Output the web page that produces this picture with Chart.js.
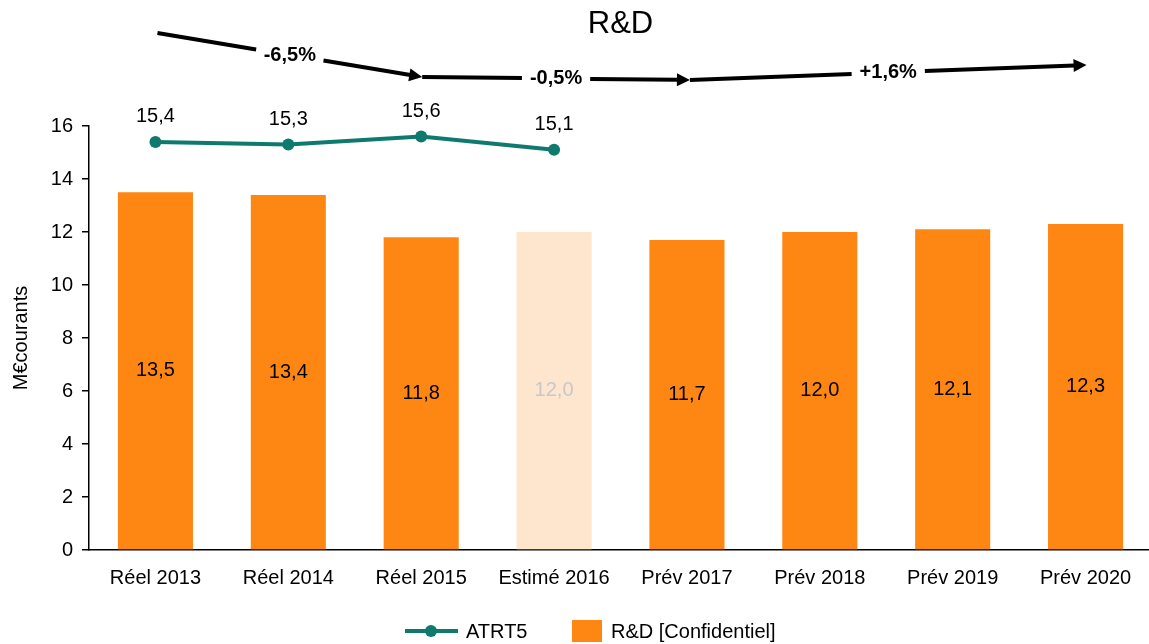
<!DOCTYPE html>
<html>
<head>
<meta charset="utf-8">
<script src="https://cdn.jsdelivr.net/npm/chart.js@4/dist/chart.umd.min.js"></script>
<style>
html,body{margin:0;padding:0;background:#fff;overflow:hidden;}
#wrap{width:1149px;height:644px;overflow:hidden;}
</style>
</head>
<body>
<div id="wrap"><canvas id="c" width="1158" height="644"></canvas></div>
<script>
// ---- Data ----
const categories = ['Réel 2013','Réel 2014','Réel 2015','Estimé 2016','Prév 2017','Prév 2018','Prév 2019','Prév 2020'];
const rdValues = [13.5, 13.4, 11.8, 12.0, 11.7, 12.0, 12.1, 12.3];
const atrt5Values = [15.4, 15.3, 15.6, 15.1, null, null, null, null];
const yMin = 0, yMax = 16, yStep = 2;
const growthLabels = ['-6,5%', '-0,5%', '+1,6%'];
const growthFrom = [0, 2, 4];
const growthTo = [2, 4, 7];
const estimatedIndex = 3;

// ---- Styles ----
const FONT = '"Liberation Sans", Arial, sans-serif';
const ORANGE = '#FE8713';
const ORANGE_LIGHT = '#FDE5CE';
const TEAL = '#0E7A6E';

const fmt = v => v.toFixed(1).replace('.', ',');

const labelsPlugin = {
  id: 'valueLabels',
  afterDatasetsDraw(chart) {
    const ctx = chart.ctx;
    ctx.save();
    ctx.font = '20px ' + FONT;
    ctx.textAlign = 'center';
    ctx.textBaseline = 'middle';
    chart.data.datasets.forEach((ds, di) => {
      const meta = chart.getDatasetMeta(di);
      meta.data.forEach((el, i) => {
        const v = ds.data[i];
        if (v === null || v === undefined) return;
        if (ds.type === 'bar') {
          ctx.fillStyle = i === estimatedIndex ? '#C8C8C8' : '#000';
          ctx.fillText(fmt(v), el.x, (el.y + el.base) / 2);
        } else {
          ctx.fillStyle = '#000';
          ctx.fillText(fmt(v), el.x, el.y - 25);
        }
      });
    });
    ctx.restore();
  }
};

function drawArrow(ctx, x0, y0, x1, y1, label) {
  ctx.save();
  ctx.font = 'bold 20px ' + FONT;
  const tw = ctx.measureText(label).width;
  const dx = x1 - x0, dy = y1 - y0, L = Math.hypot(dx, dy);
  const ux = dx / L, uy = dy / L;
  const mx = (x0 + x1) / 2, my = (y0 + y1) / 2;
  const g = tw / 2 + 8;
  const head = 13, hw = 6.5;
  ctx.strokeStyle = '#000';
  ctx.fillStyle = '#000';
  ctx.lineWidth = 4;
  ctx.lineCap = 'butt';
  ctx.beginPath();
  ctx.moveTo(x0, y0);
  ctx.lineTo(mx - ux * g, my - uy * g);
  ctx.moveTo(mx + ux * g, my + uy * g);
  ctx.lineTo(x1 - ux * head + ux, y1 - uy * head + uy);
  ctx.stroke();
  ctx.beginPath();
  ctx.moveTo(x1, y1);
  ctx.lineTo(x1 - ux * head - uy * hw, y1 - uy * head + ux * hw);
  ctx.lineTo(x1 - ux * head + uy * hw, y1 - uy * head - ux * hw);
  ctx.closePath();
  ctx.fill();
  ctx.textAlign = 'center';
  ctx.textBaseline = 'middle';
  ctx.fillText(label, mx, my);
  ctx.restore();
}

const decorPlugin = {
  id: 'decor',
  afterDraw(chart) {
    const ctx = chart.ctx;
    const xs = chart.scales.x;
    // growth arrows (vertical positions are annotation layout)
    const ys = [[33, 77], [77, 80], [80, 65]];
    const offs = [[2, 1], [1, 3], [3, 1]];
    for (let k = 0; k < growthLabels.length; k++) {
      const xa = xs.getPixelForValue(growthFrom[k]) + offs[k][0];
      const xb = xs.getPixelForValue(growthTo[k]) + offs[k][1];
      drawArrow(ctx, xa, ys[k][0], xb, ys[k][1], growthLabels[k]);
    }
    // legend
    ctx.save();
    const cy = 631;
    ctx.strokeStyle = TEAL;
    ctx.lineWidth = 4;
    ctx.beginPath();
    ctx.moveTo(405, cy);
    ctx.lineTo(458, cy);
    ctx.stroke();
    ctx.fillStyle = TEAL;
    ctx.beginPath();
    ctx.arc(431, cy, 6, 0, Math.PI * 2);
    ctx.fill();
    ctx.fillStyle = '#000';
    ctx.font = '20px ' + FONT;
    ctx.textAlign = 'left';
    ctx.textBaseline = 'middle';
    ctx.fillText(chart.data.datasets[0].label, 466, cy + 1);
    ctx.fillStyle = ORANGE;
    ctx.fillRect(572, 620, 30, 22);
    ctx.fillStyle = '#000';
    ctx.fillText(chart.data.datasets[1].label, 611, cy + 1);
    ctx.restore();
  }
};

new Chart(document.getElementById('c'), {
  data: {
    labels: categories,
    datasets: [
      {
        type: 'line',
        label: 'ATRT5',
        data: atrt5Values,
        borderColor: TEAL,
        backgroundColor: TEAL,
        borderWidth: 4,
        pointRadius: 6,
        pointBorderWidth: 0,
        pointBackgroundColor: TEAL,
        tension: 0,
        spanGaps: false
      },
      {
        type: 'bar',
        label: 'R&D [Confidentiel]',
        data: rdValues,
        backgroundColor: rdValues.map((v, i) => i === estimatedIndex ? ORANGE_LIGHT : ORANGE),
        borderWidth: 0,
        barPercentage: 0.565,
        categoryPercentage: 1
      }
    ]
  },
  options: {
    responsive: false,
    animation: false,
    devicePixelRatio: 1,
    layout: { padding: { left: 0, right: 0, top: 0, bottom: 38 } },
    plugins: {
      legend: { display: false },
      tooltip: { enabled: false },
      title: {
        display: true,
        fullSize: false,
        text: 'R&D',
        color: '#000',
        font: { family: FONT, size: 31, weight: 'normal', lineHeight: 1.2 },
        padding: { top: 6, bottom: 82.8 }
      }
    },
    scales: {
      x: {
        grid: { display: false, drawTicks: false },
        border: { color: '#000', width: 1.5 },
        ticks: { color: '#000', font: { family: FONT, size: 20 }, padding: 16, maxRotation: 0, autoSkip: false }
      },
      y: {
        min: yMin,
        max: yMax,
        grid: { drawOnChartArea: false, drawTicks: true, tickLength: 7, color: '#000', lineWidth: 1.5 },
        border: { color: '#000', width: 1.5 },
        ticks: { stepSize: yStep, color: '#000', font: { family: FONT, size: 20 }, padding: 9 },
        title: { display: true, text: 'M€courants', color: '#000', font: { family: FONT, size: 20 }, padding: { top: 9, bottom: 0 } },
        afterFit(scale) { scale.width = 89; }
      }
    }
  },
  plugins: [labelsPlugin, decorPlugin]
});
</script>
</body>
</html>
